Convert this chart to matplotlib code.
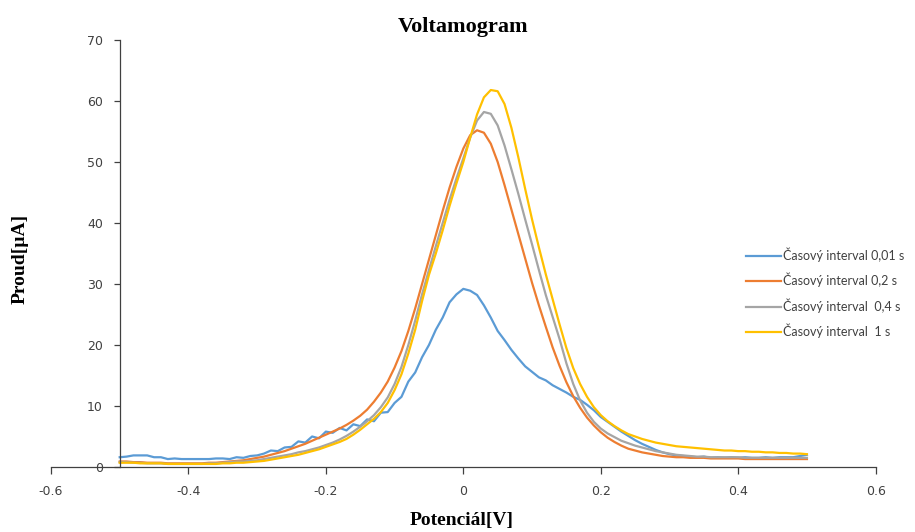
import numpy as np
import matplotlib
matplotlib.use('Agg')
import matplotlib.pyplot as plt

# potential grid [V], 0.01 V step
potential = np.round(np.arange(-0.50, 0.501, 0.01), 2)

# current [uA] for each time interval
i_001 = [1.6, 1.7, 1.9, 1.9, 1.9, 1.6, 1.6, 1.3, 1.4, 1.3,
         1.3, 1.3, 1.3, 1.3, 1.4, 1.4, 1.3, 1.6, 1.5, 1.8,
         1.9, 2.2, 2.7, 2.6, 3.2, 3.3, 4.2, 4.0, 5.0, 4.7,
         5.8, 5.6, 6.4, 6.0, 7.0, 6.7, 7.8, 7.5, 8.9, 9.0,
         10.5, 11.5, 14.0, 15.5, 18.0, 20.0, 22.5, 24.5, 27.0, 28.3,
         29.2, 28.9, 28.2, 26.5, 24.5, 22.3, 20.8, 19.2, 17.8, 16.5,
         15.6, 14.7, 14.2, 13.4, 12.8, 12.2, 11.5, 11.0, 10.2, 9.3,
         8.2, 7.4, 6.6, 5.8, 5.1, 4.4, 3.8, 3.3, 2.8, 2.4,
         2.1, 1.9, 1.8, 1.7, 1.6, 1.7, 1.5, 1.6, 1.5, 1.6,
         1.5, 1.6, 1.5, 1.5, 1.6, 1.5, 1.6, 1.6, 1.6, 1.8, 2.0]
i_02 = [0.9, 0.9, 0.8, 0.8, 0.7, 0.7, 0.7, 0.6, 0.6, 0.6,
        0.6, 0.6, 0.6, 0.7, 0.7, 0.8, 0.9, 1.0, 1.1, 1.3,
        1.5, 1.7, 2.0, 2.3, 2.6, 3.0, 3.4, 3.8, 4.3, 4.8,
        5.3, 5.8, 6.3, 6.9, 7.6, 8.4, 9.4, 10.7, 12.2, 14.0,
        16.3, 19.0, 22.3, 26.0, 30.0, 34.0, 38.0, 42.0, 45.8, 49.2,
        52.2, 54.4, 55.2, 54.8, 53.0, 50.0, 46.2, 42.2, 38.2, 34.2,
        30.2, 26.5, 23.0, 19.6, 16.6, 13.9, 11.6, 9.7, 8.1, 6.8,
        5.7, 4.8, 4.1, 3.5, 3.0, 2.7, 2.4, 2.2, 2.0, 1.8,
        1.7, 1.6, 1.6, 1.5, 1.5, 1.5, 1.4, 1.4, 1.4, 1.4,
        1.4, 1.3, 1.3, 1.3, 1.3, 1.3, 1.3, 1.3, 1.3, 1.3, 1.3]
i_04 = [0.8, 0.8, 0.7, 0.7, 0.6, 0.6, 0.6, 0.5, 0.5, 0.5,
        0.5, 0.5, 0.5, 0.6, 0.6, 0.7, 0.8, 0.9, 0.9, 1.0,
        1.1, 1.3, 1.5, 1.7, 1.9, 2.1, 2.4, 2.6, 2.9, 3.2,
        3.6, 4.0, 4.5, 5.1, 5.8, 6.6, 7.5, 8.5, 9.8, 11.4,
        13.6, 16.4, 20.0, 24.0, 28.3, 32.3, 36.2, 40.0, 43.8, 47.3,
        50.6, 54.0, 56.8, 58.2, 57.9, 56.0, 52.7, 48.8, 44.8, 40.6,
        36.5, 32.3, 28.2, 24.6, 21.0, 17.0, 13.6, 10.9, 8.9, 7.4,
        6.3, 5.5, 4.9, 4.3, 3.9, 3.5, 3.2, 2.9, 2.6, 2.4,
        2.2, 2.0, 1.9, 1.8, 1.7, 1.7, 1.6, 1.6, 1.6, 1.6,
        1.6, 1.5, 1.5, 1.5, 1.5, 1.5, 1.5, 1.5, 1.5, 1.5, 1.5]
i_1 = [0.7, 0.7, 0.7, 0.6, 0.6, 0.6, 0.6, 0.5, 0.5, 0.5,
       0.5, 0.5, 0.5, 0.5, 0.5, 0.6, 0.6, 0.7, 0.7, 0.8,
       0.9, 1.0, 1.2, 1.4, 1.6, 1.8, 2.0, 2.3, 2.6, 2.9,
       3.3, 3.7, 4.1, 4.6, 5.3, 6.1, 7.0, 7.9, 9.0, 10.5,
       12.6, 15.2, 18.6, 22.5, 27.2, 31.5, 35.0, 38.8, 42.8, 46.5,
       50.0, 54.0, 57.8, 60.6, 61.8, 61.6, 59.5, 55.6, 50.8, 45.6,
       40.6, 36.0, 31.6, 27.5, 23.4, 19.5, 16.2, 13.6, 11.5, 9.8,
       8.5, 7.5, 6.7, 6.0, 5.4, 5.0, 4.6, 4.3, 4.0, 3.8,
       3.6, 3.4, 3.3, 3.2, 3.1, 3.0, 2.9, 2.8, 2.7, 2.7,
       2.6, 2.6, 2.5, 2.5, 2.4, 2.4, 2.3, 2.3, 2.2, 2.2, 2.1]

labels = ['Časový interval 0,01 s', 'Časový interval 0,2 s',
          'Časový interval  0,4 s', 'Časový interval  1 s']
colors = ['#5B9BD5', '#ED7D31', '#A5A5A5', '#FFC000']

fig = plt.figure(figsize=(9.15, 5.32), dpi=100)
ax = fig.add_axes([0.0557, 0.1222, 0.9013, 0.8026])

for y, lab, c in zip([i_001, i_02, i_04, i_1], labels, colors):
    ax.plot(potential, y, color=c, lw=1.6, label=lab)

ax.set_xlim(-0.6, 0.6)
ax.set_ylim(0, 70)
ax.set_xticks(np.arange(-0.6, 0.61, 0.2))
ax.set_xticklabels(['-0.6', '-0.4', '-0.2', '0', '0.2', '0.4', '0.6'])
ax.set_yticks(range(0, 71, 10))

# excel style axes: y axis crosses at -0.5
ax.spines['top'].set_visible(False)
ax.spines['right'].set_visible(False)
ax.spines['left'].set_position(('data', -0.5))
for s in ['left', 'bottom']:
    ax.spines[s].set_color('#404040')
    ax.spines[s].set_linewidth(0.9)
ax.tick_params(axis='x', direction='out', length=5, width=0.9, color='#404040',
               labelsize=9, labelcolor='#404040', pad=8)
ax.tick_params(axis='y', direction='out', length=4, width=0.9, color='#404040',
               labelsize=9, labelcolor='#404040', pad=8)

ax.set_title('Voltamogram', fontsize=16, fontweight='bold', family='Liberation Serif', pad=6)
fig.text(0.504, 0.022, 'Potenciál[V]', ha='center', va='center', fontsize=14,
         fontweight='bold', family='Liberation Serif')
fig.text(0.022, 0.513, 'Proud[µA]', ha='center', va='center', rotation=90, fontsize=14,
         fontweight='bold', family='Liberation Serif')

fig.legend(loc='upper left', bbox_to_anchor=(0.8153, 0.535), frameon=False, borderpad=0,
           borderaxespad=0, prop={'family': 'Lato', 'size': 9},
           handlelength=2.8, handletextpad=0.2, labelspacing=0.88, labelcolor='#404040')

fig.savefig('out.png', dpi=100)
